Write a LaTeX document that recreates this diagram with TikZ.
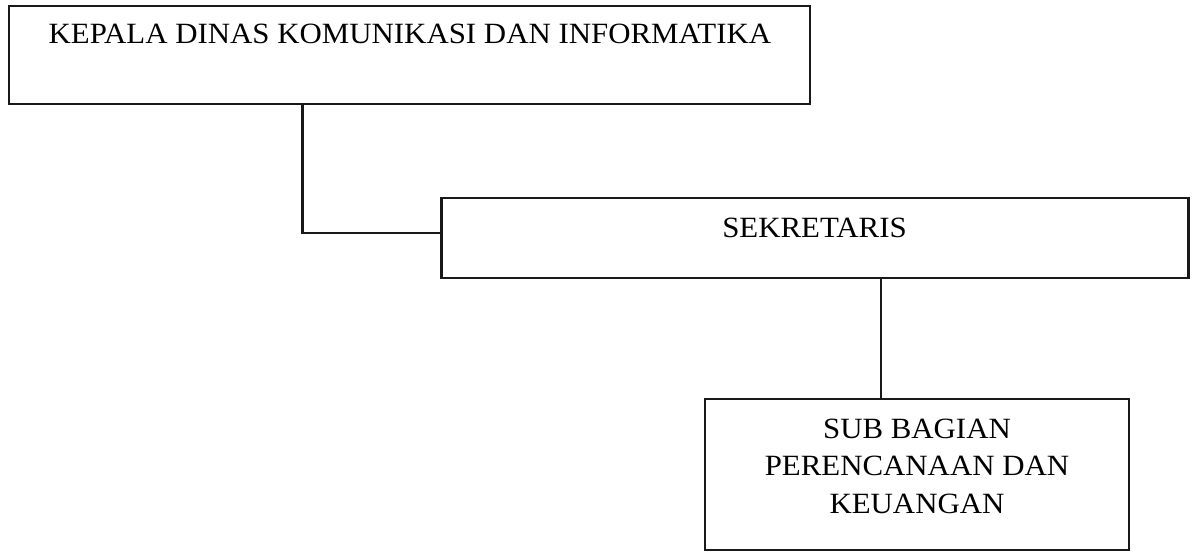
\documentclass[tikz,border=0pt]{standalone}
\usepackage{fontspec}
\setmainfont[FakeStretch=1.05]{Liberation Serif}
\begin{document}
\begin{tikzpicture}[x=0.5pt,y=-0.5pt,
  box/.style={draw=black!90,line width=1.1pt,inner sep=0pt,outer sep=0pt,anchor=north west},
  lbl/.style={font=\fontsize{14.7pt}{18.75pt}\selectfont,inner sep=0pt,align=center},
  conn/.style={draw=black!90,line width=1.1pt}]
\useasboundingbox (0,0) rectangle (1200,552);
\node[box,minimum width=400.5pt,minimum height=49pt] (kepala) at (9,6) {};
\node[box,minimum width=373.5pt,minimum height=40pt] (sek) at (441.5,198) {};
\node[box,minimum width=212pt,minimum height=75.5pt] (sub) at (705,399) {};
\node[lbl,anchor=base] (tkepala) at (410,43) {KEPALA DINAS KOMUNIKASI DAN INFORMATIKA};
\node[lbl,anchor=base] (tsek) at (814.5,237) {SEKRETARIS};
\node[lbl] (tsub) at (917,466) {SUB BAGIAN\\PERENCANAAN DAN\\KEUANGAN};
\coordinate (j1) at (302.5,233);
\coordinate (j2) at (881,300);
\draw[conn] (kepala.south -| j1) -- (j1) -- (j1 -| sek.west);
\draw[conn] (sek.south -| j2) -- (sub.north -| j2);
\end{tikzpicture}
\end{document}
